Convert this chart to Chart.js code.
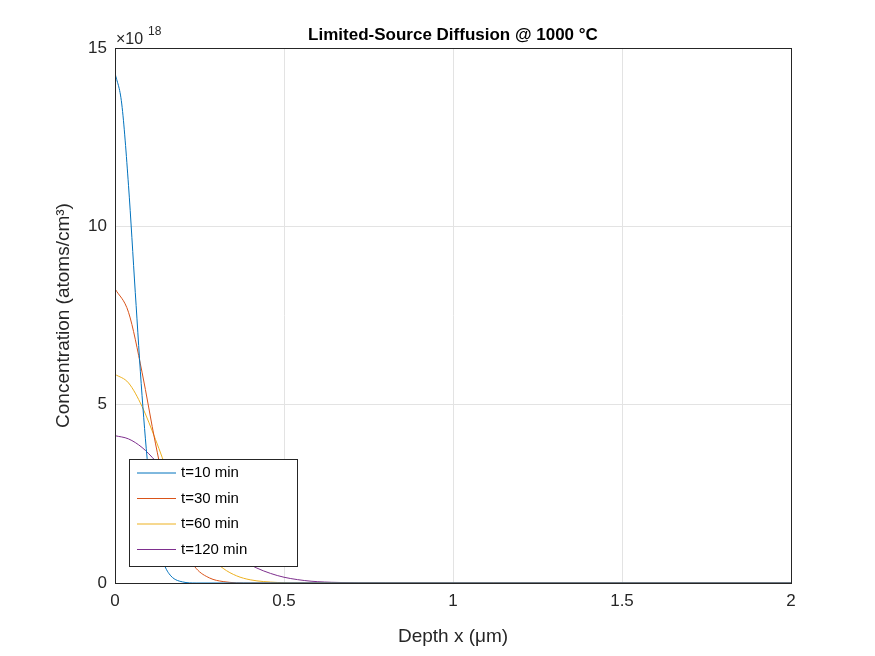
<!DOCTYPE html>
<html><head><script src="https://cdn.jsdelivr.net/npm/chart.js@4"></script>
<style>body{margin:0;background:#fff}#w{width:875px;height:656px}</style></head>
<body><div id="w"><canvas id="c"></canvas></div>
<script>
const seriesNames=["t=10 min","t=30 min","t=60 min","t=120 min"];
const seriesColors=["#0072BD","#D95319","#EDB120","#7E2F8E"];
// depth (µm), concentration (×1e18 atoms/cm^3)
const t10x=[0,0.02,0.04,0.06,0.08,0.1,0.12,0.14,0.16,0.2,0.24,2];
const t10y=[14.3,13.43,11.14,8.15,5.26,3.0,1.51,0.67,0.26,0.03,0,0];
const t30x=[0,0.04,0.08,0.12,0.16,0.2,0.24,0.28,0.32,0.4,2];
const t30y=[8.25,7.59,5.91,3.9,2.18,1.03,0.41,0.14,0.04,0,0];
const t60x=[0,0.04,0.08,0.12,0.16,0.2,0.24,0.28,0.32,0.36,0.4,0.48,0.56,2];
const t60y=[5.85,5.61,4.95,4.02,3.0,2.06,1.31,0.76,0.41,0.2,0.09,0.015,0,0];
const t120x=[0,0.04,0.08,0.12,0.16,0.2,0.24,0.28,0.32,0.36,0.4,0.48,0.56,0.64,0.8,2];
const t120y=[4.13,4.04,3.8,3.42,2.96,2.45,1.95,1.49,1.09,0.76,0.51,0.21,0.07,0.02,0,0];
const xTicks=[0,0.5,1,1.5,2];
const yTicks=[0,5,10,15];
const xs=[t10x,t30x,t60x,t120x], ys=[t10y,t30y,t60y,t120y];
const F="'Liberation Sans', Arial, sans-serif";
const datasets=seriesNames.map((n,i)=>({label:n,data:xs[i].map((x,j)=>({x,y:ys[i][j]})),borderColor:seriesColors[i],borderWidth:1,pointRadius:0,cubicInterpolationMode:'monotone',fill:false}));
const deco={id:'deco',afterDraw(ch){const c=ch.ctx,a=ch.chartArea;c.save();
c.strokeStyle='#262626';c.lineWidth=1;c.strokeRect(a.left+0.5,a.top+0.5,a.right-a.left,a.bottom-a.top);
c.fillStyle='#000';c.font="bold 17px "+F;c.textAlign='center';c.textBaseline='alphabetic';
c.fillText('Limited-Source Diffusion @ 1000 °C',(a.left+a.right)/2,40);
c.fillStyle='#262626';c.font="19px "+F;c.fillText('Depth x (\u03bcm)',(a.left+a.right)/2,642);
c.save();c.translate(69,(a.top+a.bottom)/2);c.rotate(-Math.PI/2);c.fillText('Concentration (atoms/cm\u00b3)',0,0);c.restore();
c.textAlign='left';c.font="16px "+F;c.fillText('\u00d710',116,44);c.font="12px "+F;c.fillText('18',148,35);
// legend
const lx=129,ly=459,lw=168,lh=107;c.fillStyle='#fff';c.fillRect(lx,ly,lw,lh);c.strokeStyle='#262626';c.strokeRect(lx+0.5,ly+0.5,lw,lh);
c.font="15px "+F;c.textBaseline='middle';
seriesNames.forEach((n,i)=>{const yy=ly+14+i*25.5;c.strokeStyle=seriesColors[i];c.beginPath();c.moveTo(lx+8,yy);c.lineTo(lx+47,yy);c.stroke();c.fillStyle='#000';c.fillText(n,lx+52,yy);});
c.restore();}};
new Chart(document.getElementById('c'),{type:'line',data:{datasets},plugins:[deco],
options:{responsive:true,maintainAspectRatio:false,animation:false,
layout:{padding:{top:48,right:84,left:0,bottom:0}},
plugins:{legend:{display:false},tooltip:{enabled:false}},
scales:{
x:{type:'linear',min:0,max:2,afterFit(s){s.height=73;},afterBuildTicks(s){s.ticks=xTicks.map(v=>({value:v}));},
grid:{color:'#e3e3e3',drawTicks:false},border:{display:false},
ticks:{color:'#262626',font:{size:17,family:F},padding:8,maxRotation:0,callback:v=>String(v)}},
y:{type:'linear',min:0,max:15,afterFit(s){s.width=115;},afterBuildTicks(s){s.ticks=yTicks.map(v=>({value:v}));},
grid:{color:'#e3e3e3',drawTicks:false},border:{display:false},
ticks:{color:'#262626',font:{size:17,family:F},padding:8}}}}});
</script></body></html>
